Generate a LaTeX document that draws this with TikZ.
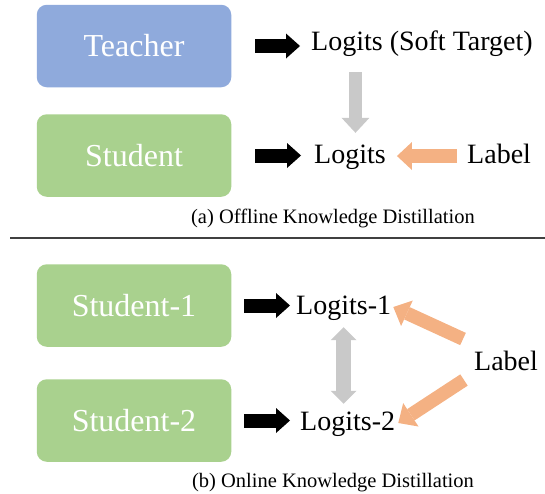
\documentclass[tikz,border=0pt]{standalone}
\usepackage{fontspec}
\setmainfont{Liberation Serif}
\usetikzlibrary{positioning,arrows.meta}
\definecolor{teacherblue}{HTML}{8FAADC}
\definecolor{studentgreen}{HTML}{A9D18E}
\definecolor{labelorange}{HTML}{F4B183}
\definecolor{softgray}{HTML}{C9C9C9}

\begin{document}
\begin{tikzpicture} [
			x=1pt, y=-1pt,
			box/.style={rectangle, rounded corners=10pt, minimum width=194.5pt, minimum height=82.5pt, text=white, font=\fontsize{32}{38}\selectfont},
			txt/.style={anchor=base west, inner sep=0pt, text height=20pt, text depth=6pt, font=\fontsize{28}{34}\selectfont},
			caption/.style={anchor=base, inner sep=0pt, font=\fontsize{20.5}{24}\selectfont},
			arrow/.style={line width=14pt, -{Triangle[width=25pt, length=14pt, line width=0pt]}},
			grayarrow/.style={softgray, line width=13pt, -{Triangle[width=28pt, length=15pt, line width=0pt]}},
			twoarrow/.style={softgray, line width=15pt, {Triangle[width=26pt, length=13pt, line width=0pt]}-{Triangle[width=26pt, length=13pt, line width=0pt]}},
			labelarrow/.style={labelorange, line width=13.5pt, -{Triangle[width=28pt, length=15pt, line width=0pt]}}
		]
		\useasboundingbox (0,0) rectangle (545,493);

		% (a) offline
		\node at (134,46)    [box, fill=teacherblue]  (teacher) {Teacher};
		\node at (134,155.5) [box, fill=studentgreen] (student) {Student};
		\node at (311,50)  [txt] (soft)   {Logits (Soft Target)};
		\node at (314,163) [txt] (logits) {Logits};
		\node at (467,163) [txt] (label)  {Label};
		\node at (333,223) [caption] (capa) {(a) Offline Knowledge Distillation};

		\draw [arrow, shorten <=24pt, shorten >=11pt] (teacher) -- (teacher -| soft.west);
		\draw [arrow, shorten <=24pt, shorten >=13pt] (student) -- (student -| logits.west);
		\draw [grayarrow, shorten <=16pt, shorten >=10pt] ([xshift=5.5pt]logits.north |- soft.south) -- ([xshift=5.5pt]logits.north);
		\draw [labelarrow, shorten <=10pt, shorten >=11pt] (label) -- (logits);

		\draw [black!75, line width=1.5pt] (10,238) -- (545,238);

		% (b) online
		\node at (134,305.5) [box, fill=studentgreen] (studenta) {Student-1};
		\node at (134,420.5) [box, fill=studentgreen] (studentb) {Student-2};
		\node at (296,314) [txt] (logitsa) {Logits-1};
		\node at (300,430) [txt] (logitsb) {Logits-2};
		\node at (474,370) [txt] (labelb)  {Label};
		\node at (333,487) [caption] (capb) {(b) Online Knowledge Distillation};
		\coordinate (taila) at ([xshift=-11pt, yshift=24pt]labelb.west);
		\coordinate (tailb) at ([xshift=-10pt, yshift=-17pt]labelb.west);

		\draw [arrow, shorten <=13pt, shorten >=6pt]  (studenta) -- (studenta -| logitsa.west);
		\draw [arrow, shorten <=13pt, shorten >=10pt] (studentb) -- (studentb -| logitsb.west);
		\draw [twoarrow, shorten <=7pt, shorten >=6pt] (logitsa.south) -- (logitsa.south |- logitsb.north);
		\draw [labelarrow] (taila) -- ([xshift=2pt]logitsa.east);
		\draw [labelarrow] (tailb) -- ([xshift=3pt]logitsb.east);
\end{tikzpicture}
\end{document}
